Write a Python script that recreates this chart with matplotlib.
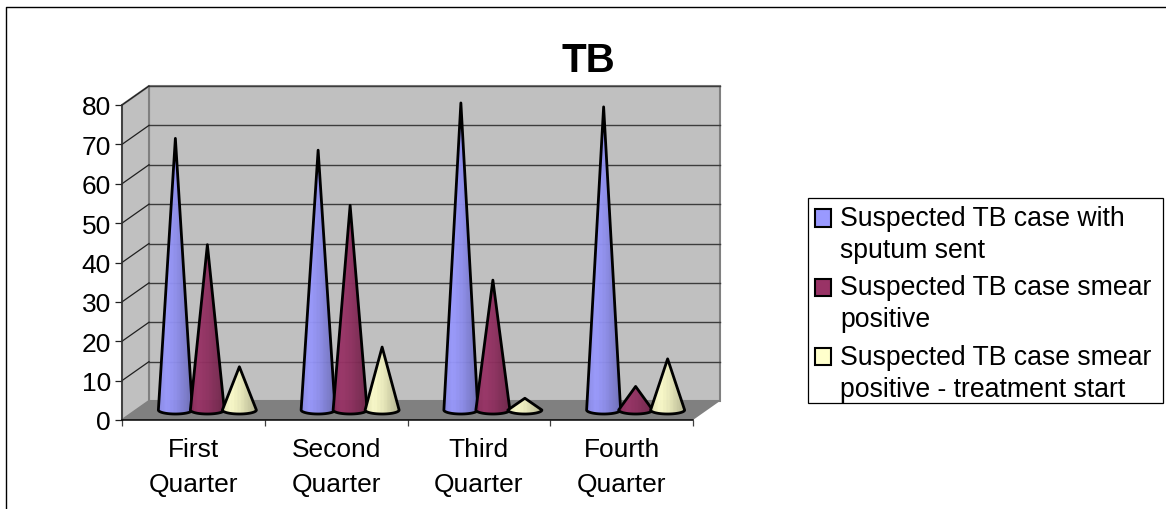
import numpy as np
import matplotlib
matplotlib.use("Agg")
import matplotlib.pyplot as plt
from matplotlib.lines import Line2D
from matplotlib.legend_handler import HandlerPatch
from matplotlib.patches import Polygon, Patch, Rectangle

plt.rcParams['font.family'] = ['Liberation Sans', 'DejaVu Sans']

categories = ["First\nQuarter", "Second\nQuarter", "Third\nQuarter", "Fourth\nQuarter"]
series_names = ["Suspected TB case with\nsputum sent",
                "Suspected TB case smear\npositive",
                "Suspected TB case smear\npositive - treatment start"]
sputum_sent = [70, 67, 79, 78]
smear_positive = [43, 53, 34, 7]
treatment_start = [12, 17, 4, 14]
colors = ["#9999FF", "#993366", "#FFFFCC"]
y_ticks = [0, 10, 20, 30, 40, 50, 60, 70, 80]

W, H = 1166, 510
fig = plt.figure(figsize=(W / 100, H / 100), dpi=100, facecolor="white")
fig.add_artist(Line2D([5.5 / W, 5.5 / W, 1], [0, 1 - 7.5 / H, 1 - 7.5 / H], transform=fig.transFigure,
                      color="black", lw=1.0))
ax = fig.add_axes([122 / W, 1 - 421 / H, 571 / W, 315 / H])
ax.set_xlim(0, 4)
ax.set_ylim(0, 80)
ax.autoscale(False)
for s in ax.spines.values():
    s.set_visible(False)
ax.patch.set_visible(False)

px_x = 571 / 4
px_y = 315 / 80
DX, DY = 27 / px_x, 19 / px_y

# walls and floor
wall = "#C0C0C0"
edge = "#808080"
ax.add_patch(Polygon([(DX, DY), (4 + DX, DY), (4 + DX, 80 + DY), (DX, 80 + DY)], closed=True,
                     fc=wall, ec=edge, lw=1.5, clip_on=False, zorder=1))
ax.add_patch(Polygon([(0, 0), (DX, DY), (DX, 80 + DY), (0, 80)], closed=True,
                     fc=wall, ec=edge, lw=1.5, clip_on=False, zorder=1))
ax.add_patch(Polygon([(0, 0), (4, 0), (4 + DX, DY), (DX, DY)], closed=True,
                     fc=edge, ec="none", clip_on=False, zorder=1.2))
for t in y_ticks[1:]:
    ax.plot([DX, 4 + DX], [t + DY, t + DY], color="#3c3c3c", lw=1.0, clip_on=False, zorder=1.5)
    ax.plot([0, DX], [t, t + DY], color="#202020", lw=0.9, clip_on=False, zorder=1.5)
ax.plot([0, 0], [0, 80], color="#303030", lw=1.1, clip_on=False, zorder=2)
ax.plot([0, 4], [0, 0], color="black", lw=1.1, clip_on=False, zorder=2)

ax.set_xticks(range(5))
ax.set_xticklabels([])
ax.set_xticks([i + 0.5 for i in range(4)], minor=True)
ax.set_xticklabels(categories, minor=True, fontsize=19, linespacing=1.55)
ax.tick_params(axis="x", which="minor", length=0, pad=12.5)
ax.tick_params(axis="x", which="major", length=4.5, width=0.9, color="#404040")
ax.set_yticks(y_ticks)
ax.set_yticklabels([str(t) for t in y_ticks], fontsize=19)
ax.tick_params(axis="y", length=5, width=0.9, pad=3, color="#202020")


def cone(cx, value, color):
    r = 17 / px_x
    front = 6 / px_y
    yc = 10 / px_y
    ry = 4 / px_y
    th = np.linspace(np.pi, 2 * np.pi, 40)
    xs = cx + r * np.cos(th)
    ys = yc + ry * np.sin(th)
    apex = (cx, value + front)
    pts = list(zip(xs, ys)) + [apex]
    base = np.array(matplotlib.colors.to_rgb(color))
    u = np.linspace(0, 1, 48)
    shade = np.interp(u, [0, 0.25, 0.55, 1], [0.90, 1.0, 0.92, 0.72])
    stripes = 1 + 0.025 * np.cos(np.arange(48) * np.pi)
    img = np.clip(base[None, None, :] * (shade * stripes)[None, :, None], 0, 1)
    im = ax.imshow(img, extent=(cx - r, cx + r, 0, value + front), aspect="auto",
                   zorder=3, interpolation="bilinear", alpha=0.96)
    clip = Polygon(pts, closed=True, transform=ax.transData, fc="none", ec="none")
    ax.add_patch(clip)
    clip.set_clip_on(False)
    im.set_clip_path(clip)
    im.set_clip_box(fig.bbox)
    ax.add_patch(Polygon(pts, closed=True, fc="none", ec="black", lw=2.0,
                         joinstyle="round", clip_on=False, zorder=3))


all_series = [sputum_sent, smear_positive, treatment_start]
spacing = 32 / px_x
shift = 14 / px_x
for i in range(4):
    for j, vals in enumerate(all_series):
        cone(i + 0.5 + shift + (j - 1) * spacing, vals[i], colors[j])

fig.text(588 / W, 1 - 61 / H, "TB", fontsize=29, fontweight="bold", ha="center", va="center")


def raised_box(legend, orig_handle, xdescent, ydescent, width, height, fontsize):
    return Rectangle((-xdescent, -ydescent + 12.2), width, height)


fig.add_artist(Rectangle((807.5 / W, 1 - 404 / H), 355 / W, 205.5 / H, transform=fig.transFigure,
                         fc="white", ec="black", lw=0.9))
handles = [Patch(fc=c, ec="black", lw=1.5) for c in colors]
leg = fig.legend(handles, series_names, loc="center",
                 bbox_to_anchor=(983 / W, 1 - 304.5 / H), fontsize=19.2, frameon=False,
                 handlelength=0.62, handleheight=0.62,
                 handletextpad=0.32, labelspacing=0.42, borderpad=0.32, borderaxespad=0,
                 handler_map={Patch: HandlerPatch(patch_func=raised_box)})
for t in leg.get_texts():
    t.set_linespacing(1.30)

fig.savefig("out.png", dpi=100, facecolor="white")
